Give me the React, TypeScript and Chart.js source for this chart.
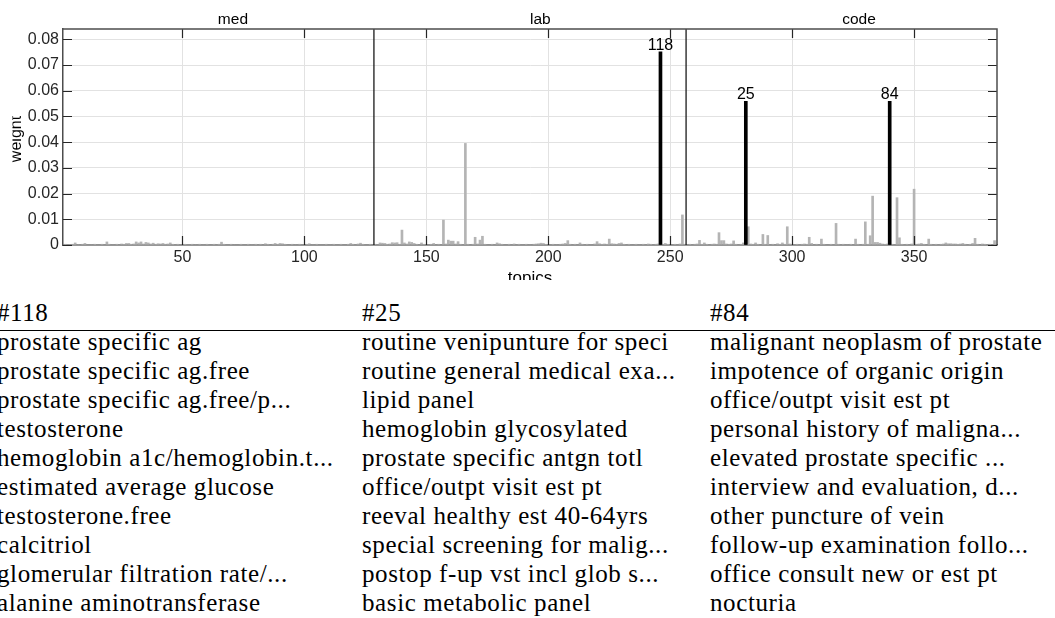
import React, { useEffect, useRef } from 'react';
import { Chart, registerables } from 'chart.js';

Chart.register(...registerables);

// ---------------- data ----------------
const sectionNames = ['med', 'lab', 'code'];
const sectionOffsets = [0, 128, 256];
const sectionSize = 128;

// topics 1..128
const medWeights = [
  0.0002, 0.0003, 0.0002, 0.0002, 0.0003, 0.0008, 0.0002, 0.0002, 0.0003, 0.0006, 0.0002, 0.0002, 0.0002, 0.0003, 0.0002, 0.0002,
  0.0003, 0.0002, 0.0012, 0.0003, 0.0002, 0.0002, 0.0003, 0.0002, 0.0004, 0.0003, 0.0006, 0.0006, 0.0003, 0.0004, 0.0012, 0.0008,
  0.0012, 0.0004, 0.0010, 0.0008, 0.0004, 0.0007, 0.0003, 0.0005, 0.0004, 0.0006, 0.0003, 0.0004, 0.0008, 0.0003, 0.0002, 0.0003,
  0.0002, 0.0002, 0.0003, 0.0002, 0.0002, 0.0003, 0.0002, 0.0002, 0.0003, 0.0002, 0.0002, 0.0003, 0.0002, 0.0002, 0.0003, 0.0002,
  0.0003, 0.0011, 0.0003, 0.0002, 0.0002, 0.0003, 0.0002, 0.0002, 0.0002, 0.0003, 0.0002, 0.0002, 0.0003, 0.0002, 0.0002, 0.0003,
  0.0002, 0.0003, 0.0002, 0.0005, 0.0003, 0.0002, 0.0003, 0.0006, 0.0003, 0.0006, 0.0005, 0.0003, 0.0002, 0.0002, 0.0003, 0.0002,
  0.0002, 0.0003, 0.0002, 0.0002, 0.0003, 0.0005, 0.0002, 0.0002, 0.0003, 0.0002, 0.0002, 0.0002, 0.0003, 0.0002, 0.0002, 0.0003,
  0.0002, 0.0002, 0.0003, 0.0002, 0.0002, 0.0003, 0.0006, 0.0003, 0.0002, 0.0004, 0.0007, 0.0003, 0.0002, 0.0002, 0.0003, 0.0002,
];

// topics 129..256
const labWeights = [
  0.0003, 0.0002, 0.0008, 0.0007, 0.0006, 0.0003, 0.0004, 0.0009, 0.0008, 0.0009, 0.0003, 0.0058, 0.0008, 0.0004, 0.0012, 0.0010,
  0.0006, 0.0003, 0.0002, 0.0008, 0.0003, 0.0002, 0.0002, 0.0003, 0.0006, 0.0002, 0.0003, 0.0002, 0.0097, 0.0004, 0.0019, 0.0015,
  0.0015, 0.0004, 0.0013, 0.0003, 0.0002, 0.0395, 0.0003, 0.0002, 0.0003, 0.0030, 0.0004, 0.0019, 0.0034, 0.0003, 0.0002, 0.0002,
  0.0003, 0.0002, 0.0008, 0.0005, 0.0003, 0.0002, 0.0002, 0.0003, 0.0002, 0.0004, 0.0002, 0.0003, 0.0002, 0.0002, 0.0003, 0.0002,
  0.0002, 0.0003, 0.0004, 0.0005, 0.0007, 0.0006, 0.0003, 0.0002, 0.0002, 0.0003, 0.0002, 0.0002, 0.0003, 0.0004, 0.0006, 0.0017,
  0.0003, 0.0002, 0.0003, 0.0002, 0.0008, 0.0003, 0.0002, 0.0003, 0.0002, 0.0002, 0.0004, 0.0013, 0.0005, 0.0003, 0.0004, 0.0003,
  0.0023, 0.0005, 0.0004, 0.0003, 0.0006, 0.0008, 0.0003, 0.0002, 0.0003, 0.0002, 0.0002, 0.0003, 0.0002, 0.0002, 0.0003, 0.0002,
  0.0004, 0.0003, 0.0002, 0.0003, 0.0004, 0.0751, 0.0003, 0.0006, 0.0003, 0.0002, 0.0002, 0.0003, 0.0002, 0.0004, 0.0117, 0.0003,
];

// topics 257..384
const codeWeights = [
  0.0002, 0.0003, 0.0002, 0.0003, 0.0004, 0.0018, 0.0003, 0.0008, 0.0003, 0.0002, 0.0003, 0.0004, 0.0003, 0.0048, 0.0017, 0.0017,
  0.0004, 0.0003, 0.0004, 0.0016, 0.0003, 0.0002, 0.0003, 0.0008, 0.0559, 0.0071, 0.0004, 0.0003, 0.0008, 0.0003, 0.0002, 0.0041,
  0.0003, 0.0037, 0.0002, 0.0003, 0.0002, 0.0005, 0.0003, 0.0008, 0.0003, 0.0071, 0.0004, 0.0003, 0.0002, 0.0003, 0.0002, 0.0003,
  0.0004, 0.0003, 0.0030, 0.0006, 0.0002, 0.0003, 0.0002, 0.0023, 0.0003, 0.0002, 0.0002, 0.0003, 0.0002, 0.0084, 0.0003, 0.0002,
  0.0003, 0.0002, 0.0002, 0.0003, 0.0002, 0.0023, 0.0003, 0.0002, 0.0003, 0.0090, 0.0003, 0.0036, 0.0190, 0.0010, 0.0010, 0.0007,
  0.0004, 0.0003, 0.0004, 0.0559, 0.0003, 0.0002, 0.0184, 0.0028, 0.0003, 0.0002, 0.0003, 0.0002, 0.0004, 0.0217, 0.0003, 0.0004,
  0.0006, 0.0003, 0.0002, 0.0023, 0.0003, 0.0002, 0.0003, 0.0002, 0.0003, 0.0004, 0.0008, 0.0005, 0.0005, 0.0004, 0.0004, 0.0003,
  0.0004, 0.0006, 0.0003, 0.0002, 0.0003, 0.0006, 0.0026, 0.0003, 0.0002, 0.0004, 0.0003, 0.0002, 0.0003, 0.0002, 0.0017, 0.0003,
];

const highlightSections = ['lab', 'code', 'code'];
const highlightLocalIds = [118, 25, 84];

const xTickValues = [50, 100, 150, 200, 250, 300, 350];
const yTickValues = [0, 0.01, 0.02, 0.03, 0.04, 0.05, 0.06, 0.07, 0.08];
const xMin = 1;
const xMax = 384;
const yMax = 0.084;

const tableHeaders = ['#118', '#25', '#84'];
const topic118Terms = [
  'prostate specific ag',
  'prostate specific ag.free',
  'prostate specific ag.free/p...',
  'testosterone',
  'hemoglobin a1c/hemoglobin.t...',
  'estimated average glucose',
  'testosterone.free',
  'calcitriol',
  'glomerular filtration rate/...',
  'alanine aminotransferase',
];
const topic25Terms = [
  'routine venipunture for speci',
  'routine general medical exa...',
  'lipid panel',
  'hemoglobin glycosylated',
  'prostate specific antgn totl',
  'office/outpt visit est pt',
  'reeval healthy est 40-64yrs',
  'special screening for malig...',
  'postop f-up vst incl glob s...',
  'basic metabolic panel',
];
const topic84Terms = [
  'malignant neoplasm of prostate',
  'impotence of organic origin',
  'office/outpt visit est pt',
  'personal history of maligna...',
  'elevated prostate specific ...',
  'interview and evaluation, d...',
  'other puncture of vein',
  'follow-up examination follo...',
  'office consult new or est pt',
  'nocturia',
];

// ---------------- derived ----------------
const allWeights = [...medWeights, ...labWeights, ...codeWeights];
const highlightTopics = highlightSections.map(
  (s, k) => sectionOffsets[sectionNames.indexOf(s)] + highlightLocalIds[k]
);
const grayPoints = allWeights
  .map((w, i) => ({ x: i + 1, y: w }))
  .filter((p) => !highlightTopics.includes(p.x));
const blackPoints = highlightTopics.map((t) => ({ x: t, y: allWeights[t - 1] }));

const SANS = '"Liberation Sans", Helvetica, Arial, sans-serif';
const AXIS_COLOR = '#262626';

const decorPlugin = {
  id: 'decor',
  afterDatasetsDraw(chart: any) {
    const { ctx, chartArea: a, scales } = chart;
    const x = scales.x;
    const y = scales.y;
    ctx.save();

    // section separators
    ctx.strokeStyle = '#1a1a1a';
    ctx.lineWidth = 1.3;
    sectionOffsets.slice(1).forEach((o) => {
      const px = x.getPixelForValue(o + 0.5);
      ctx.beginPath();
      ctx.moveTo(px, a.top);
      ctx.lineTo(px, a.bottom);
      ctx.stroke();
    });

    // inward ticks
    ctx.strokeStyle = AXIS_COLOR;
    ctx.lineWidth = 1.2;
    const TL = 9;
    xTickValues.forEach((v) => {
      const px = Math.round(x.getPixelForValue(v)) + 0.5;
      ctx.beginPath();
      ctx.moveTo(px, a.bottom);
      ctx.lineTo(px, a.bottom - TL);
      ctx.moveTo(px, a.top);
      ctx.lineTo(px, a.top + TL);
      ctx.stroke();
    });
    yTickValues.forEach((v) => {
      const py = Math.round(y.getPixelForValue(v)) + 0.5;
      ctx.beginPath();
      ctx.moveTo(a.left, py);
      ctx.lineTo(a.left + TL, py);
      ctx.moveTo(a.right, py);
      ctx.lineTo(a.right - TL, py);
      ctx.stroke();
    });

    // box (top + right)
    ctx.strokeStyle = '#4d4d4d';
    ctx.lineWidth = 1.5;
    ctx.beginPath();
    ctx.moveTo(a.left, a.top);
    ctx.lineTo(a.right, a.top);
    ctx.lineTo(a.right, a.bottom);
    ctx.stroke();

    // bar labels
    ctx.fillStyle = '#000';
    ctx.font = `16px ${SANS}`;
    ctx.textAlign = 'center';
    ctx.textBaseline = 'alphabetic';
    blackPoints.forEach((p, k) => {
      ctx.fillText(
        String(highlightLocalIds[k]),
        x.getPixelForValue(p.x),
        y.getPixelForValue(p.y) - 2
      );
    });

    // section labels
    ctx.font = `15.5px ${SANS}`;
    ctx.textAlign = 'left';
    ctx.textBaseline = 'middle';
    sectionNames.forEach((n, i) => {
      ctx.fillText(n, x.getPixelForValue(sectionOffsets[i] + sectionSize / 2 + 0.5), 20);
    });

    // x-axis title (partly cut by canvas edge)
    ctx.font = `17px ${SANS}`;
    ctx.textAlign = 'center';
    ctx.textBaseline = 'top';
    ctx.fillText('topics', (a.left + a.right) / 2, 270);

    // y-axis title (partly clipped)
    ctx.save();
    ctx.beginPath();
    ctx.rect(12.5, 0, 60, chart.height);
    ctx.clip();
    ctx.translate(20.5, (a.top + a.bottom) / 2 + 2);
    ctx.rotate(-Math.PI / 2);
    ctx.font = `16px ${SANS}`;
    ctx.textAlign = 'center';
    ctx.textBaseline = 'alphabetic';
    ctx.fillText('weight', 0, 0);
    ctx.restore();

    ctx.restore();
  },
};

export default function App() {
  const canvasRef = useRef<HTMLCanvasElement | null>(null);

  useEffect(() => {
    document.body.style.margin = '0';
    const canvas = canvasRef.current;
    if (!canvas) return;
    const chart = new Chart(canvas, {
      type: 'bar',
      data: {
        datasets: [
          {
            data: blackPoints as any,
            backgroundColor: '#000000',
            barThickness: 3,
            borderWidth: 0,
          },
          {
            data: grayPoints as any,
            backgroundColor: '#b4b4b4',
            barThickness: 2,
            borderWidth: 0,
          },
        ],
      },
      options: {
        responsive: false,
        animation: false,
        devicePixelRatio: 1,
        layout: { padding: { left: 0, right: 58, top: 29, bottom: 0 } },
        plugins: {
          legend: { display: false },
          tooltip: { enabled: false },
        },
        datasets: { bar: { grouped: false } } as any,
        scales: {
          x: {
            type: 'linear',
            min: xMin,
            max: xMax,
            offset: false,
            afterBuildTicks: (s: any) => {
              s.ticks = xTickValues.map((v) => ({ value: v }));
            },
            afterFit: (s: any) => {
              s.height = 35;
            },
            grid: { color: '#e2e2e2', lineWidth: 1, drawTicks: false, offset: false },
            border: { display: true, color: '#4d4d4d', width: 1.5 },
            ticks: {
              color: AXIS_COLOR,
              font: { family: SANS, size: 16 },
              padding: 3,
              maxRotation: 0,
              autoSkip: false,
            },
          },
          y: {
            type: 'linear',
            min: 0,
            max: yMax,
            afterBuildTicks: (s: any) => {
              s.ticks = yTickValues.map((v) => ({ value: v }));
            },
            afterFit: (s: any) => {
              s.width = 63;
            },
            grid: { color: '#e2e2e2', lineWidth: 1, drawTicks: false },
            border: { display: true, color: '#4d4d4d', width: 1.5 },
            ticks: {
              color: AXIS_COLOR,
              font: { family: SANS, size: 16 },
              padding: 4,
              autoSkip: false,
              callback: (v: any) => (Number(v) === 0 ? '0' : Number(v).toFixed(2)),
            },
          },
        },
      },
      plugins: [decorPlugin],
    });
    return () => chart.destroy();
  }, []);

  const columns = [topic118Terms, topic25Terms, topic84Terms];
  const colX = [-3, 362, 710];

  return (
    <div
      style={{
        position: 'absolute',
        left: 0,
        top: 0,
        width: 1055,
        height: 618,
        overflow: 'hidden',
        background: '#fff',
      }}
    >
      <canvas
        ref={canvasRef}
        width={1055}
        height={280}
        style={{ position: 'absolute', left: 0, top: 0, width: 1055, height: 280 }}
      />
      {columns.map((terms, ci) => (
        <div
          key={ci}
          style={{
            position: 'absolute',
            left: colX[ci],
            top: 298,
            fontFamily: '"Liberation Serif", "Times New Roman", serif',
            fontSize: 25,
            lineHeight: '29px',
            letterSpacing: '0.6px',
            whiteSpace: 'nowrap',
            color: '#000',
          }}
        >
          <div>{tableHeaders[ci]}</div>
          {terms.map((t, ri) => (
            <div key={ri}>{t}</div>
          ))}
        </div>
      ))}
      <div
        style={{
          position: 'absolute',
          left: 0,
          top: 330,
          width: 1055,
          height: 1.3,
          background: '#000',
        }}
      />
    </div>
  );
}
